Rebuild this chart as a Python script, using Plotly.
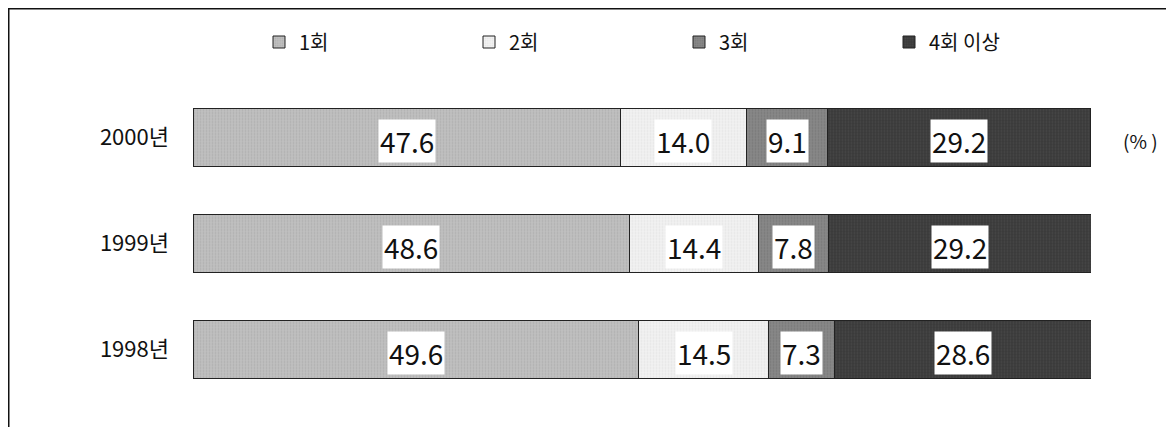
import plotly.graph_objects as go

years = ["1998년", "1999년", "2000년"]
series_names = ["1회", "2회", "3회", "4회 이상"]
v_once = [49.6, 48.6, 47.6]
v_twice = [14.5, 14.4, 14.0]
v_three = [7.3, 7.8, 9.1]
v_four = [28.6, 29.2, 29.2]
series_values = [v_once, v_twice, v_three, v_four]

fills = ["#c0c0c0", "#f2f2f2", "#888888", "#3a3a3a"]
dots = ["#9c9c9c", "#d6d6d6", "#666666", "#555555"]

# page has an 8px body margin, so the figure is 8px smaller than the window
W, H = 1166, 419
OFF = 8
FONT = "Noto Sans CJK KR, Liberation Sans, sans-serif"


def px(xp):
    return (xp - OFF) / W


def py(yp):
    return 1 - (yp - OFF) / H


fig = go.Figure()
for name, vals, fc, dc in zip(series_names, series_values, fills, dots):
    fig.add_trace(go.Bar(
        y=years, x=vals, name=name, orientation="h", width=0.54,
        marker=dict(color=fc, line=dict(color="#222222", width=1),
                    pattern=dict(shape=".", fgcolor=dc, bgcolor=fc, size=3, solidity=0.3)),
        hoverinfo="x+name",
    ))

annotations = []
for yi, yr in enumerate(years):
    cum = 0.0
    for vals in series_values:
        v = vals[yi]
        annotations.append(dict(
            x=cum + v / 2, y=yr, yshift=-3, xref="x", yref="y", text=f"{v:.1f}",
            xanchor="center", yanchor="middle",
            showarrow=False, bgcolor="white", borderpad=1,
            font=dict(family=FONT, size=28, color="#111111"),
        ))
        cum += v

annotations.append(dict(
    x=px(1140), y=py(140), xref="paper", yref="paper", text="(% )",
    xanchor="center", yanchor="middle",
    showarrow=False, font=dict(family=FONT, size=19, color="#111111"),
))

fig.update_layout(
    width=W, height=H,
    margin=dict(l=0, r=0, t=0, b=0),
    paper_bgcolor="white", plot_bgcolor="white",
    barmode="stack",
    showlegend=True,
    legend=dict(orientation="h", x=px(259), xanchor="left", y=py(42), yanchor="middle",
                entrywidth=165, entrywidthmode="pixels", traceorder="normal",
                font=dict(family=FONT, size=20, color="#111111"),
                bgcolor="rgba(0,0,0,0)"),
    xaxis=dict(domain=[px(193), px(1091)], range=[0, 100], visible=False, fixedrange=True),
    yaxis=dict(domain=[py(402.5), py(84.5)], range=[-0.5, 2.5],
               showgrid=False, zeroline=False, showline=False,
               ticks="", ticklabelstandoff=23,
               tickfont=dict(family=FONT, size=22, color="#111111")),
    annotations=annotations,
    shapes=[dict(type="rect", xref="paper", yref="paper",
                 x0=0.75 / W, x1=1.02, y0=-0.02, y1=1 - 0.75 / H,
                 line=dict(color="#111111", width=1.5))],
    font=dict(family=FONT),
)

fig.write_html("out.html")
